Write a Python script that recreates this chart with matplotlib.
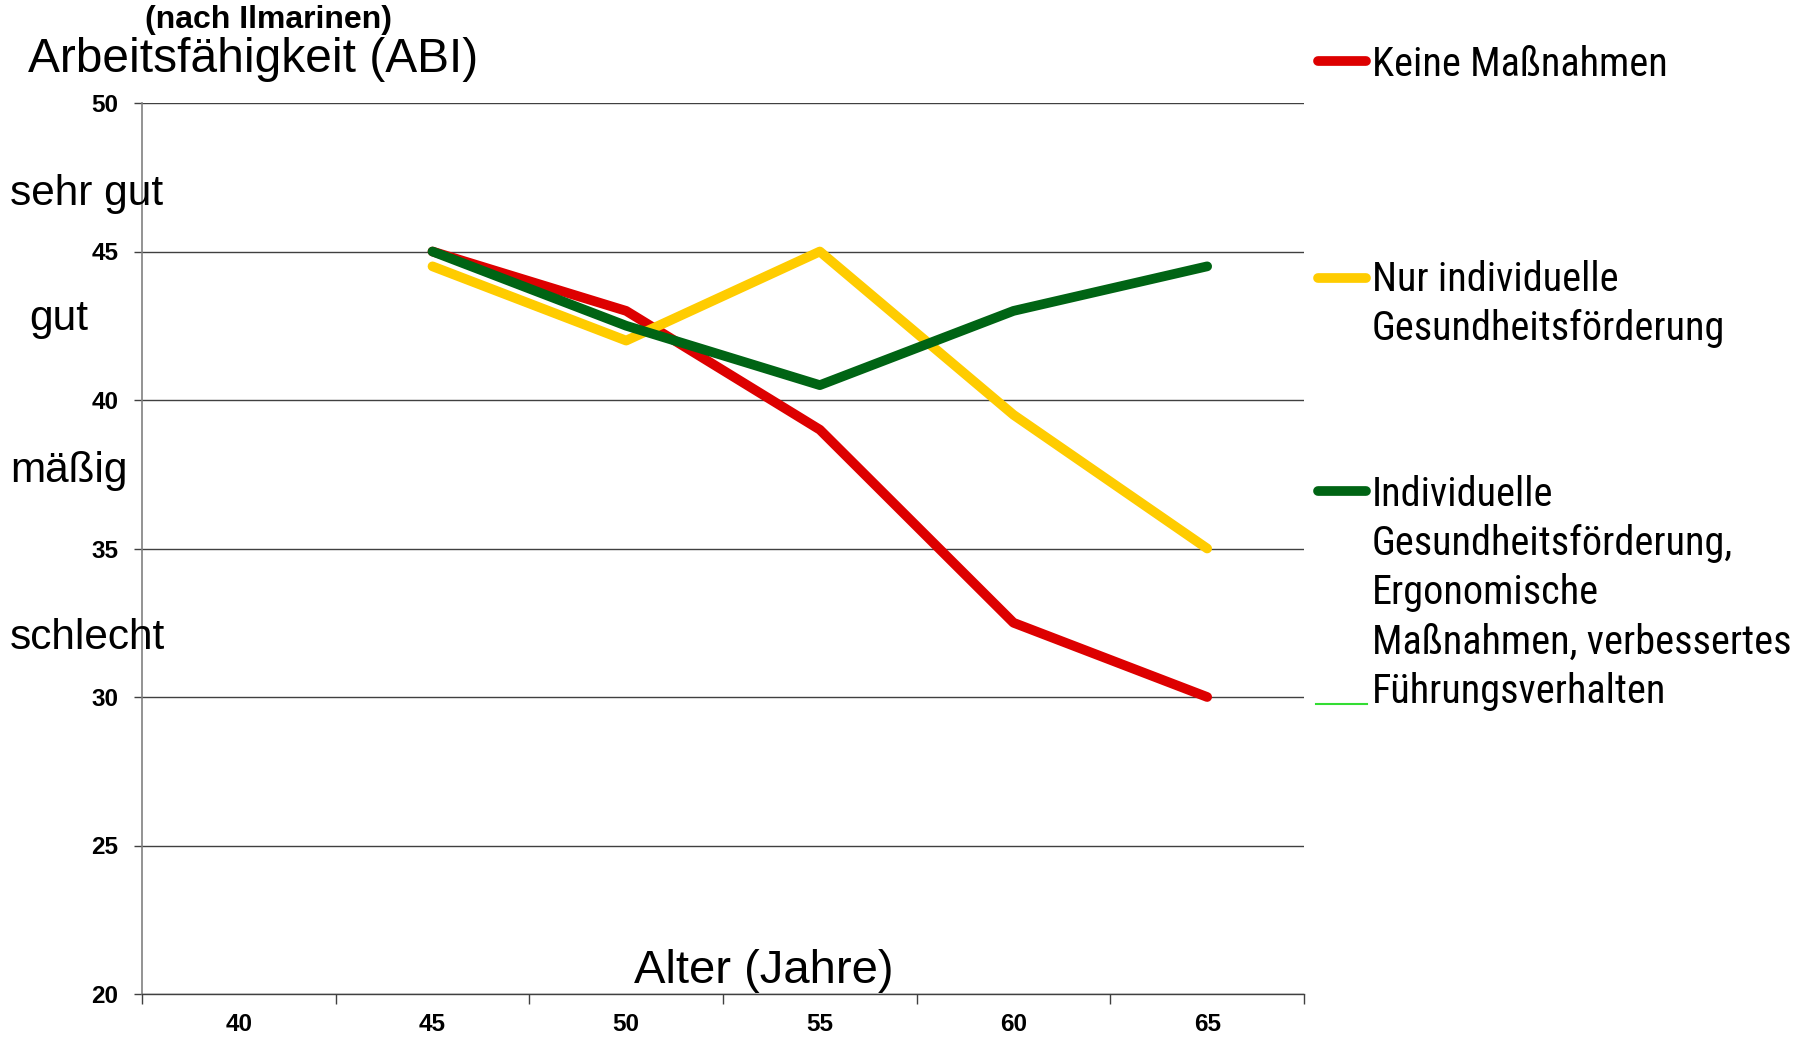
import matplotlib
matplotlib.use("Agg")
import matplotlib.pyplot as plt
from matplotlib.lines import Line2D
from matplotlib.font_manager import fontManager

# ---- data ----
ages = ["40", "45", "50", "55", "60", "65"]
keine = [None, 45, 43, 39, 32.5, 30]
nur_indiv = [None, 44.5, 42, 45, 39.5, 35]
kombiniert = [None, 45, 42.5, 40.5, 43, 44.5]
y_ticks = [20, 25, 30, 35, 40, 45, 50]
ratings = ["sehr gut", "gut", "mäßig", "schlecht"]
legend_labels = [
    ["Keine Maßnahmen"],
    ["Nur individuelle", "Gesundheitsförderung"],
    ["Individuelle", "Gesundheitsförderung,", "Ergonomische",
     "Maßnahmen, verbessertes", "Führungsverhalten"],
]

names = {f.name for f in fontManager.ttflist}
REG = ["Liberation Sans", "DejaVu Sans"]
narrow_found = None
for cand in ["Liberation Sans Narrow", "Roboto Condensed", "Open Sans Condensed",
             "Noto Sans Condensed", "DejaVu Sans Condensed", "Arimo Narrow"]:
    if cand in names:
        narrow_found = cand
        break
if narrow_found:
    NARROW = [narrow_found] + REG
    LEG_FS = 29
else:
    NARROW = REG
    LEG_FS = 25

RED = "#DD0000"
YEL = "#FFCC00"
GRN = "#006414"

fig = plt.figure(figsize=(18.10, 10.38), dpi=100)
ax = fig.add_axes([142 / 1810, 1 - 994 / 1038, (1304 - 142) / 1810, (994 - 103) / 1038])

x = list(range(len(ages)))

def pts(vals):
    xs = [i for i, v in zip(x, vals) if v is not None]
    ys = [v for v in vals if v is not None]
    return xs, ys

for vals, col in [(keine, RED), (nur_indiv, YEL), (kombiniert, GRN)]:
    xs, ys = pts(vals)
    ax.plot(xs, ys, color=col, lw=7, solid_capstyle="round", solid_joinstyle="round", zorder=3)

ax.set_xlim(-0.5, len(ages) - 0.5)
ax.set_ylim(20, 50)
ax.set_yticks(y_ticks)
ax.set_yticklabels([str(t) for t in y_ticks], fontfamily=REG, fontweight="bold", fontsize=17.5)
ax.tick_params(axis="y", length=6, width=1, color="#404040", pad=11)
ax.yaxis.grid(True, color="#404040", lw=1.0)
ax.set_axisbelow(True)

ax.set_xticks(x)
ax.set_xticklabels(ages, fontfamily=REG, fontweight="bold", fontsize=17.5)
ax.tick_params(axis="x", which="major", length=0, pad=14)
ax.set_xticks([i - 0.5 for i in range(len(ages) + 1)], minor=True)
ax.tick_params(axis="x", which="minor", length=7, width=1, color="#404040")

for s in ["top", "right"]:
    ax.spines[s].set_visible(False)
ax.spines["left"].set_color("#808080")
ax.spines["left"].set_linewidth(1.2)
ax.spines["bottom"].set_color("#404040")
ax.spines["bottom"].set_linewidth(1.0)

def fx(px):
    return px / 1810

def fy(py):
    return 1 - py / 1038

fig.text(fx(145), fy(20), "(nach Ilmarinen)", fontfamily=REG, fontweight="bold", fontsize=23, va="center", ha="left")
fig.text(fx(28), fy(59), "Arbeitsfähigkeit (ABI)", fontfamily=REG, fontsize=34.5, va="center", ha="left")

rating_pos = [(10, 194), (29, 319), (10, 471), (10, 638)]
for lab, (px, py) in zip(ratings, rating_pos):
    fig.text(fx(px), fy(py), lab, fontfamily=REG, fontsize=30.5, va="center", ha="left")

fig.text(fx(764), fy(971), "Alter (Jahre)", fontfamily=REG, fontsize=34, va="center", ha="center")

# legend drawn manually
leg_line_y = [61, 278, 491]
leg_base_y = [[76], [291, 340], [506, 555, 604, 654, 703]]
for lines, col, ly, bys in zip(legend_labels, [RED, YEL, GRN], leg_line_y, leg_base_y):
    fig.add_artist(Line2D([fx(1318), fx(1366)], [fy(ly), fy(ly)], color=col, lw=7,
                          solid_capstyle="round", transform=fig.transFigure))
    for txt, by in zip(lines, bys):
        fig.text(fx(1372), fy(by), txt, fontfamily=NARROW, fontsize=LEG_FS, va="baseline", ha="left")
fig.add_artist(Line2D([fx(1316), fx(1367)], [fy(704), fy(704)], color="#33DD33", lw=1.5,
                      transform=fig.transFigure))

fig.savefig("out.png", dpi=100)
